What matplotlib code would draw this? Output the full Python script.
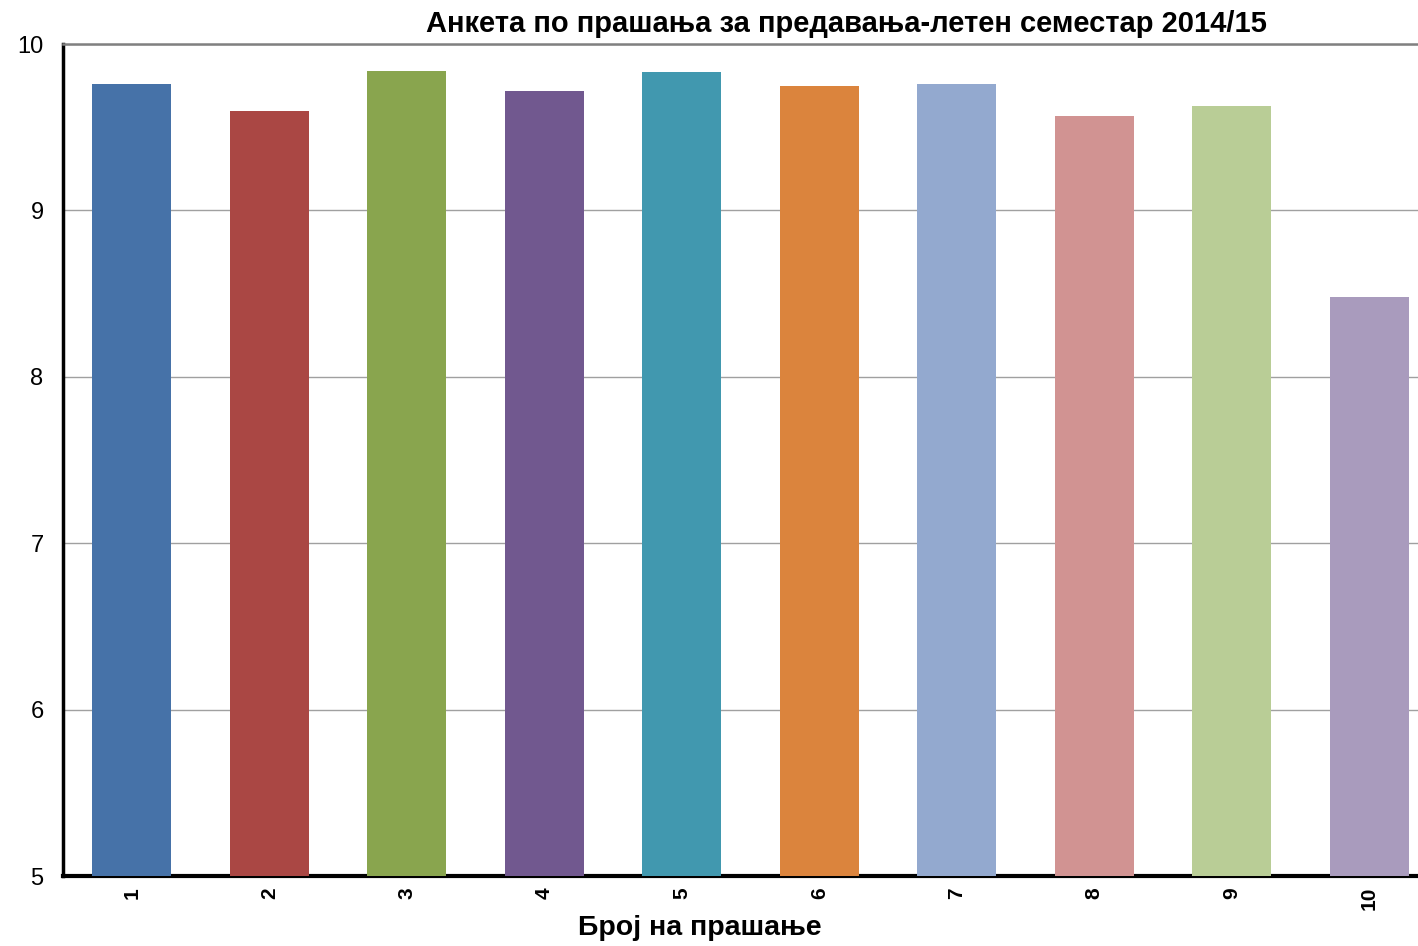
import matplotlib
matplotlib.use("Agg")
import matplotlib.pyplot as plt

categories = ["1", "2", "3", "4", "5", "6", "7", "8", "9", "10"]
values = [9.76, 9.60, 9.84, 9.72, 9.83, 9.75, 9.76, 9.57, 9.63, 8.48]
colors = ["#4672A8", "#AA4744", "#89A54E", "#71588F", "#4198AF",
          "#DB843D", "#93A9CF", "#D19392", "#B9CD96", "#A99BBD"]
title = "Анкета по прашања за предавања-летен семестар 2014/15"
xlabel = "Број на прашање"
yticks = [5, 6, 7, 8, 9, 10]

plt.rcParams['font.family'] = ['Liberation Sans', 'DejaVu Sans']

fig = plt.figure(figsize=(14.18, 9.46), dpi=100)
ax = fig.add_axes([63/1418, 1-876/946, (1438-63)/1418, (876-44)/946])

x = list(range(len(categories)))
ax.bar(x, [v - 5 for v in values], bottom=5, width=0.575, color=colors, zorder=3)

ax.set_xlim(-0.5, 9.5)
ax.set_ylim(5, 10)
ax.set_yticks(yticks)
ax.set_yticklabels([str(t) for t in yticks], fontsize=17)
ax.set_xticks(x)
ax.set_xticklabels(categories, rotation=90, fontsize=15, fontweight='bold')
ax.tick_params(axis='both', length=0)
ax.tick_params(axis='y', pad=14)
ax.tick_params(axis='x', pad=8)

ax.grid(axis='y', color='#A0A0A0', linewidth=1.0, zorder=0)
ax.set_axisbelow(True)

for s in ['top', 'right']:
    ax.spines[s].set_visible(False)
ax.spines['left'].set_linewidth(2.5)
ax.spines['bottom'].set_linewidth(3)
ax.spines['left'].set_color('black')
ax.spines['bottom'].set_color('black')
ax.axhline(10, color='#808080', linewidth=1.8, zorder=4, clip_on=False)

fig.text(846/1418, 1-24/946, title, ha='center', va='center', fontsize=21, fontweight='bold')
fig.text(700/1418, 1-928/946, xlabel, ha='center', va='center', fontsize=20.5, fontweight='bold')

fig.savefig("out.png", dpi=100)
